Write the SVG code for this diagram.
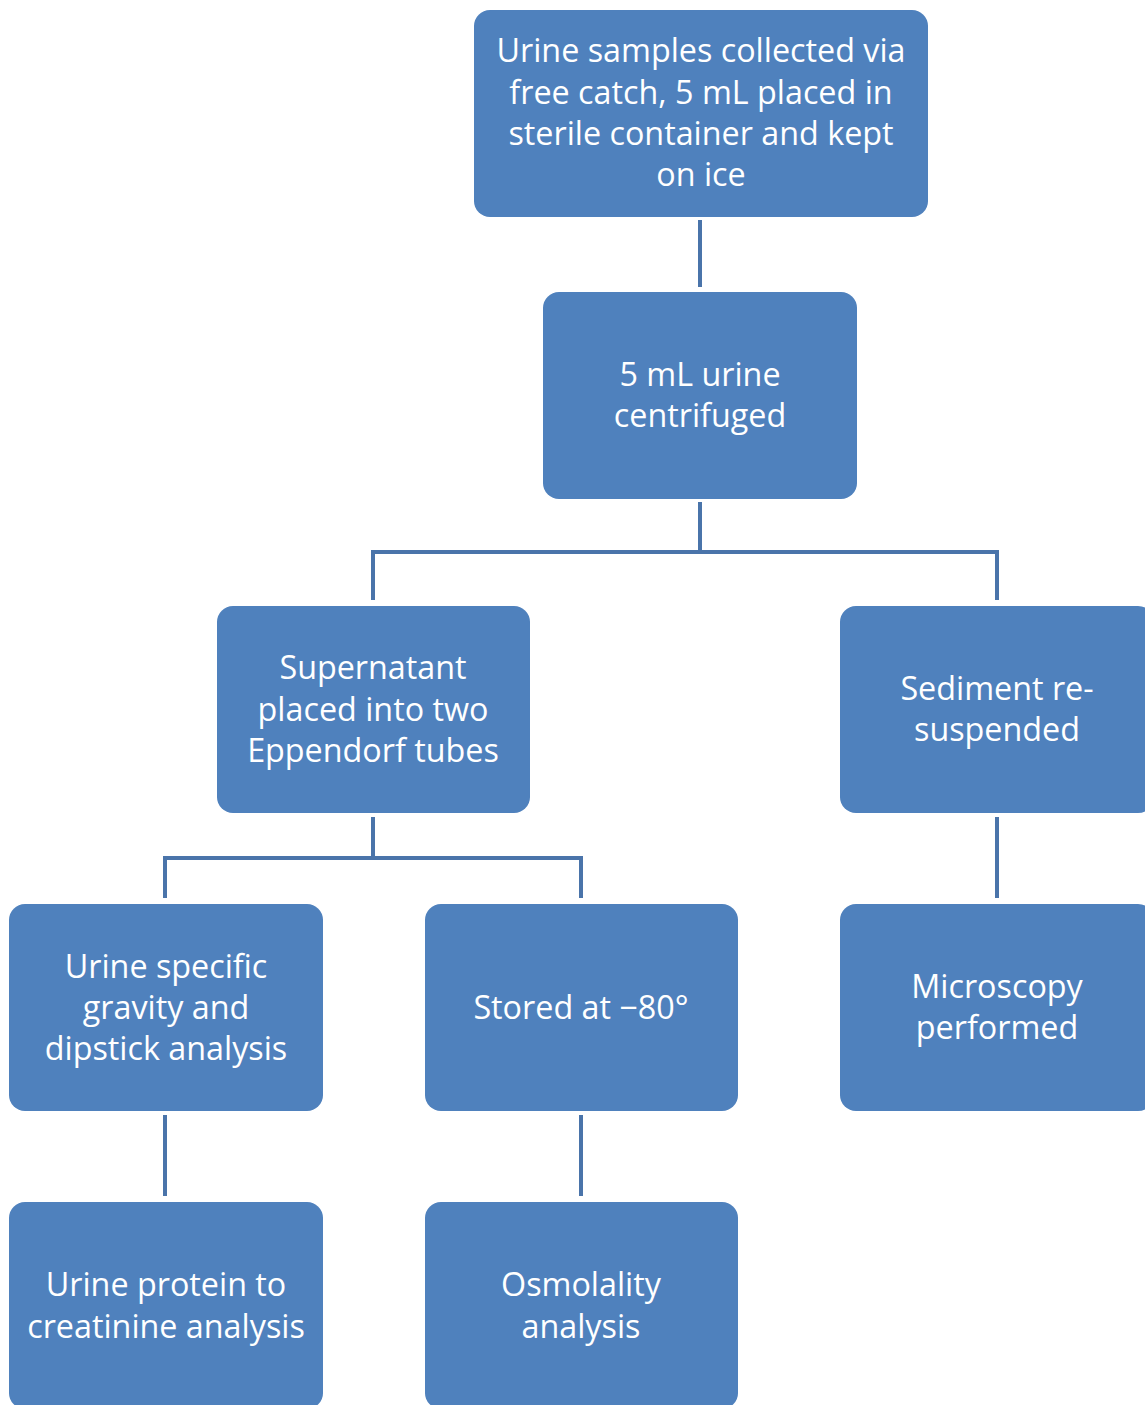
<svg xmlns="http://www.w3.org/2000/svg" width="1145" height="1405" viewBox="0 0 1145 1405">
<style>
.box{fill:#4F81BD;}
.t{font-family:"Open Sans","Noto Sans","DejaVu Sans",sans-serif;font-size:32.3px;fill:#ffffff;text-anchor:middle;}
.c{fill:none;stroke:#4A74AA;stroke-width:4;}
</style>
<rect width="1145" height="1405" fill="#ffffff"/>
<g id="connectors">
<line class="c" x1="700" y1="220" x2="700" y2="287"/>
<path class="c" d="M700,502 V552 M373,600 V552 H997 V600"/>
<path class="c" d="M373,817 V858 M165,898 V858 H581 V898"/>
<line class="c" x1="997" y1="817" x2="997" y2="898"/>
<line class="c" x1="165" y1="1115" x2="165" y2="1196"/>
<line class="c" x1="581" y1="1115" x2="581" y2="1196"/>
</g>
<g id="n1"><rect class="box" x="474" y="10" width="454" height="207" rx="16"/>
<text class="t" x="701" y="62">Urine samples collected via</text>
<text class="t" x="701" y="104">free catch, 5 mL placed in</text>
<text class="t" x="701" y="145">sterile container and kept</text>
<text class="t" x="701" y="186">on ice</text></g>
<g id="n2"><rect class="box" x="543" y="292" width="314" height="207" rx="16"/>
<text class="t" x="700" y="386">5 mL urine</text>
<text class="t" x="700" y="427">centrifuged</text></g>
<g id="n3"><rect class="box" x="217" y="606" width="313" height="207" rx="16"/>
<text class="t" x="373" y="679">Supernatant</text>
<text class="t" x="373" y="721">placed into two</text>
<text class="t" x="373" y="762">Eppendorf tubes</text></g>
<g id="n4"><rect class="box" x="840" y="606" width="314" height="207" rx="16"/>
<text class="t" x="997" y="700">Sediment re-</text>
<text class="t" x="997" y="741">suspended</text></g>
<g id="n5"><rect class="box" x="9" y="904" width="314" height="207" rx="16"/>
<text class="t" x="166" y="978">Urine specific</text>
<text class="t" x="166" y="1019">gravity and</text>
<text class="t" x="166" y="1060">dipstick analysis</text></g>
<g id="n6"><rect class="box" x="425" y="904" width="313" height="207" rx="16"/>
<text class="t" x="581" y="1019">Stored at −80°</text></g>
<g id="n7"><rect class="box" x="840" y="904" width="314" height="207" rx="16"/>
<text class="t" x="997" y="998">Microscopy</text>
<text class="t" x="997" y="1039">performed</text></g>
<g id="n8"><rect class="box" x="9" y="1202" width="314" height="207" rx="16"/>
<text class="t" x="166" y="1296">Urine protein to</text>
<text class="t" x="166" y="1338">creatinine analysis</text></g>
<g id="n9"><rect class="box" x="425" y="1202" width="313" height="207" rx="16"/>
<text class="t" x="581" y="1296">Osmolality</text>
<text class="t" x="581" y="1338">analysis</text></g>
</svg>
